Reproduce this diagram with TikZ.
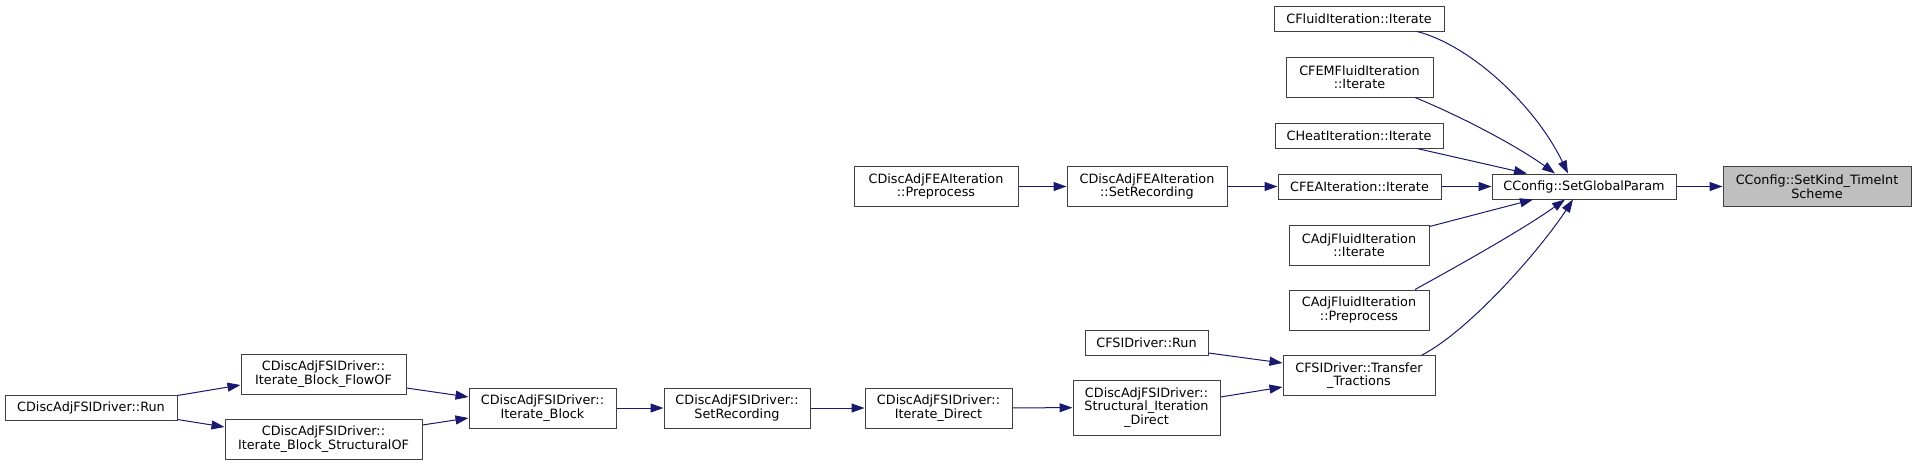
\documentclass[tikz,border=0pt]{standalone}
\usepackage{fontspec}
\setmainfont{DejaVu Sans}
\usetikzlibrary{arrows.meta,calc}
\definecolor{edgeblue}{HTML}{191970}
\definecolor{nodegray}{HTML}{BFBFBF}

\begin{document}
\begin{tikzpicture}[x=1pt,y=-1pt,
                     func/.style={
                                % The shape:
                                rectangle,minimum height=25pt,inner sep=0pt,
                                % The rest
                                draw=black!75,line width=1pt,fill=white,
                                font=\fontsize{12.8}{13.5}\selectfont,align=center},
                     called/.style={func,fill=nodegray},
                     call/.style={draw=edgeblue,line width=1pt,
                                -{Triangle[length=13pt,width=9pt]}}]
 \useasboundingbox (0,0) rectangle (1916,466);
 % left chain
 \node (adjrun)    [func,minimum width=172pt] at (91,407.5)  {CDiscAdjFSIDriver::Run};
 \node (flowof)    [func,minimum width=165pt,minimum height=40pt] at (323.5,374) {CDiscAdjFSIDriver::\\Iterate\_Block\_FlowOF};
 \node (structof)  [func,minimum width=197pt,minimum height=40pt] at (323.5,439) {CDiscAdjFSIDriver::\\Iterate\_Block\_StructuralOF};
 \node (block)     [func,minimum width=147pt,minimum height=40pt] at (542.5,408) {CDiscAdjFSIDriver::\\Iterate\_Block};
 \node (fsirec)    [func,minimum width=146pt,minimum height=40pt] at (737,408)   {CDiscAdjFSIDriver::\\SetRecording};
 \node (direct)    [func,minimum width=147pt,minimum height=40pt] at (938.5,408) {CDiscAdjFSIDriver::\\Iterate\_Direct};
 \node (structdir) [func,minimum width=147pt,minimum height=55pt] at (1146.5,407.5) {CDiscAdjFSIDriver::\\Structural\_Iteration\\\_Direct};
 \node (fsirun)    [func,minimum width=123pt] at (1146.5,342.5) {CFSIDriver::Run};
 % FEA chain
 \node (feapre)    [func,minimum width=164pt,minimum height=40pt] at (936,186.5)  {CDiscAdjFEAIteration\\::Preprocess};
 \node (fearec)    [func,minimum width=160pt,minimum height=40pt] at (1147,186.5) {CDiscAdjFEAIteration\\::SetRecording};
 % callers of SetGlobalParam
 \node (fluid)     [func,minimum width=170pt] at (1359,18.5)  {CFluidIteration::Iterate};
 \node (femfluid)  [func,minimum width=147pt,minimum height=40pt] at (1359.5,77) {CFEMFluidIteration\\::Iterate};
 \node (heat)      [func,minimum width=168pt] at (1359,135.5) {CHeatIteration::Iterate};
 \node (fea)       [func,minimum width=163pt] at (1359.5,186.5) {CFEAIteration::Iterate};
 \node (adjiter)   [func,minimum width=140pt,minimum height=40pt] at (1359,245) {CAdjFluidIteration\\::Iterate};
 \node (adjpre)    [func,minimum width=140pt,minimum height=40pt] at (1359,310) {CAdjFluidIteration\\::Preprocess};
 \node (transfer)  [func,minimum width=152pt,minimum height=40pt] at (1359,375.5) {CFSIDriver::Transfer\\\_Tractions};
 \node (global)    [func,minimum width=184pt] at (1584,186.5) {CConfig::SetGlobalParam};
 \node (timeint)   [called,minimum width=188pt,minimum height=40pt] at (1817,186.5) {CConfig::SetKind\_TimeInt\\Scheme};

 \draw [call] ([yshift=-1pt]adjrun.north east) -- ([yshift=-11pt]flowof.west);
 \draw [call] ([yshift=1pt]adjrun.south east) -- ([yshift=12pt]structof.west);
 \draw [call] ([yshift=-14pt]flowof.east) -- ([yshift=11pt]block.west);
 \draw [call] ([yshift=14pt]structof.east) -- ([yshift=-10pt]block.west);
 \draw [call] (block) -- (fsirec);
 \draw [call] (fsirec) -- (direct);
 \draw [call] (direct) -- (structdir);
 \draw [call] ([yshift=10.5pt]structdir.east) -- ([yshift=-11.5pt]transfer.west);
 \draw [call] ([yshift=-10.5pt]fsirun.east) -- ([yshift=12.5pt]transfer.west);
 \draw [call] (feapre) -- (fearec);
 \draw [call] (fearec) -- (fea);
 \draw [call] ([xshift=58pt]fluid.south) .. controls (1470,45) and (1535,105) .. ([xshift=-16pt]global.north);
 \draw [call] ([xshift=55.5pt]femfluid.south) .. controls (1465,118) and (1520,148) .. ([xshift=-29pt]global.north);
 \draw [call] ([xshift=58pt]heat.south) -- ([xshift=-57pt]global.north);
 \draw [call] (fea) -- (global);
 \draw [call] ([yshift=-2pt]adjiter.north east) -- ([xshift=-51pt]global.south);
 \draw [call] ([xshift=56pt]adjpre.north) .. controls (1465,262) and (1525,228) .. ([xshift=-19pt]global.south);
 \draw [call] ([xshift=63pt]transfer.north) .. controls (1470,330) and (1540,250) .. ([xshift=-11pt]global.south);
 \draw [call] (global) -- (timeint);
\end{tikzpicture}
\end{document}
